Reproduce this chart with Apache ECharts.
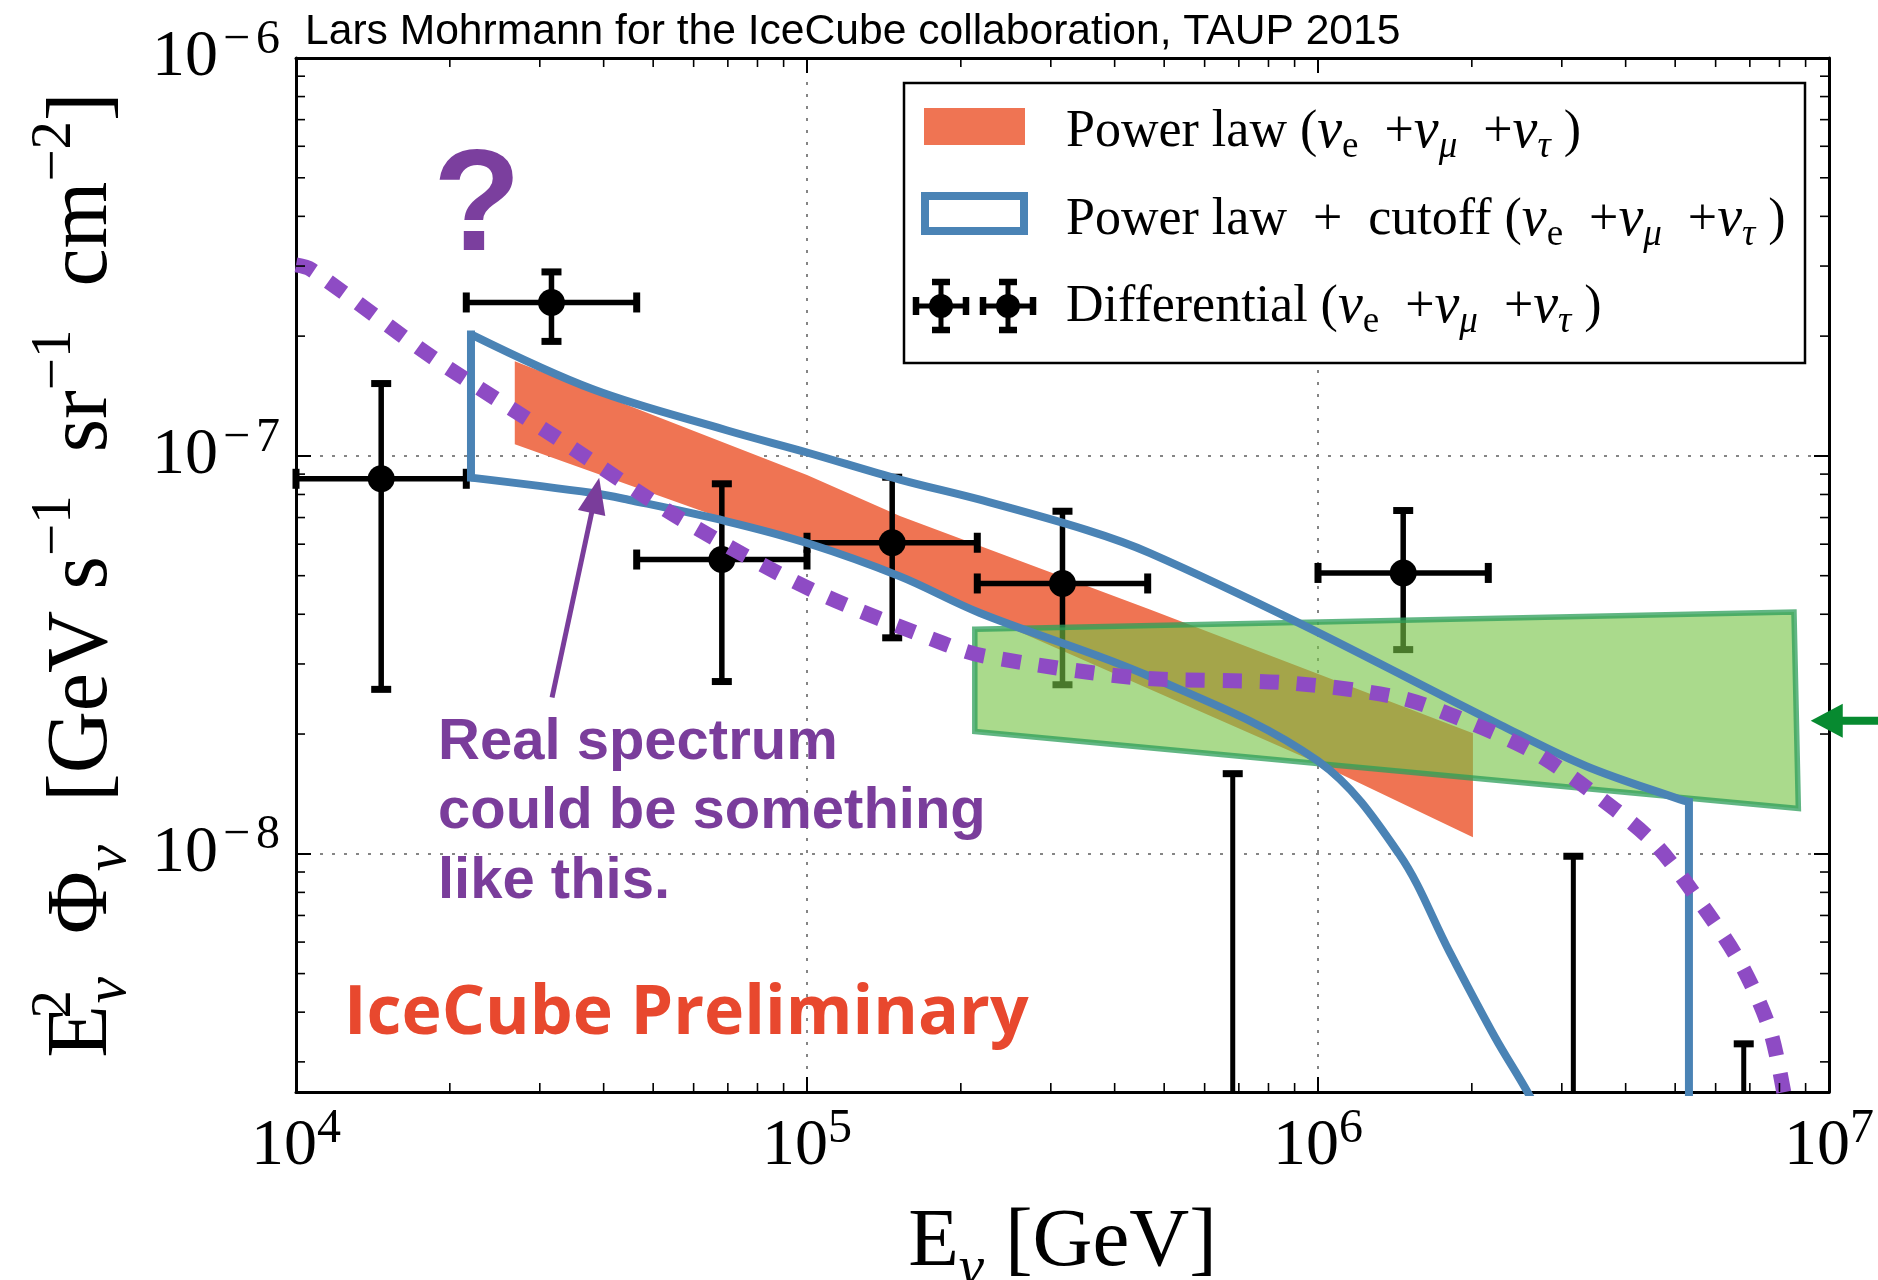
<!DOCTYPE html>
<html><head><meta charset="utf-8">
<script src="https://cdn.jsdelivr.net/npm/echarts@6/dist/echarts.min.js"></script>
<style>html,body{margin:0;padding:0;background:#fff;}#c{width:1878px;height:1280px;}</style>
</head><body><div id="c"></div>
<script>
// ---------------- data ----------------
const X_MIN = 1e4, X_MAX = 1e7, Y_MIN = 2.52e-9, Y_MAX = 1e-6;

// Differential (nu_e + nu_mu + nu_tau) points
const diffE        = [1.468e4, 3.162e4, 6.813e4, 1.468e5, 3.162e5, 1.468e6];
const diffELow     = [1.0e4,   2.154e4, 4.642e4, 1.0e5,   2.154e5, 1.0e6];
const diffEHigh    = [2.154e4, 4.642e4, 1.0e5,   2.154e5, 4.642e5, 2.154e6];
const diffFlux     = [8.76e-8, 2.43e-7, 5.49e-8, 6.05e-8, 4.78e-8, 5.08e-8];
const diffFluxLow  = [2.59e-8, 1.94e-7, 2.71e-8, 3.49e-8, 2.66e-8, 3.26e-8];
const diffFluxHigh = [1.52e-7, 2.90e-7, 8.51e-8, 8.84e-8, 7.26e-8, 7.29e-8];
// upper limits
const ulE    = [6.81e5, 3.16e6, 6.81e6];
const ulFlux = [1.59e-8, 9.86e-9, 3.33e-9];

// Power law band (orange)
const orangeTopE     = [2.68e4, 1.0e5, 1.52e5, 4.69e5, 2.01e6];
const orangeTopFlux  = [1.73e-7, 8.95e-8, 7.06e-8, 4.11e-8, 2.01e-8];
const orangeBotE     = [2.68e4, 6.93e4, 1.0e5, 1.52e5, 1.0e6, 2.01e6];
const orangeBotFlux  = [1.07e-7, 6.92e-8, 6.03e-8, 4.90e-8, 1.69e-8, 1.10e-8];

// Power law + cutoff outline (blue)
const blueUpperE    = [2.2e4, 3.81e4, 6.96e4, 1.0e5, 1.52e5, 2.18e5, 3.53e5, 4.69e5, 9.23e5, 2.27e6, 3.35e6, 5.11e6, 5.32e6];
const blueUpperFlux = [2.02e-7, 1.47e-7, 1.16e-7, 1.02e-7, 8.72e-8, 7.76e-8, 6.51e-8, 5.70e-8, 3.79e-8, 2.11e-8, 1.66e-8, 1.37e-8, 1.35e-8];
const blueLowerE    = [2.2e4, 3.81e4, 4.47e4, 6.96e4, 1.0e5, 1.52e5, 2.18e5, 4.69e5, 1.0e6, 1.44e6, 1.81e6, 2.22e6, 2.57e6, 2.78e6];
const blueLowerFlux = [8.82e-8, 8.07e-8, 7.76e-8, 6.85e-8, 6.04e-8, 4.98e-8, 4.03e-8, 2.79e-8, 1.71e-8, 1.0e-8, 5.66e-9, 3.46e-9, 2.52e-9, 2.07e-9];
const blueDropFlux  = 1.0e-9;

// Green region
const greenE    = [2.13e5, 8.54e6, 8.71e6, 2.13e5];
const greenFlux = [3.67e-8, 4.05e-8, 1.30e-8, 2.03e-8];

// Purple "real spectrum" dotted curve
const purpleE    = [1.0e4, 1.07e4, 1.86e4, 3.24e4, 5.69e4, 1.02e5, 1.87e5, 2.25e5, 4.43e5, 8.69e5, 1.44e6, 1.96e6, 2.67e6, 3.54e6, 4.56e6, 5.71e6, 6.76e6, 7.67e6, 8.22e6];
const purpleFlux = [3.02e-7, 2.94e-7, 1.76e-7, 1.11e-7, 6.92e-8, 4.61e-8, 3.36e-8, 3.13e-8, 2.77e-8, 2.69e-8, 2.47e-8, 2.15e-8, 1.79e-8, 1.39e-8, 1.06e-8, 7.28e-9, 5.21e-9, 3.60e-9, 2.38e-9];

// annotation arrows (tail -> tip)
const purpleArrowE    = [3.17e4, 3.92e4];
const purpleArrowFlux = [2.47e-8, 8.81e-8];
const greenArrowE     = [1.3e7, 9.21e6];
const greenArrowFlux  = [2.16e-8, 2.16e-8];

// minor tick positions
const xMinorTicks = [];
for (let n = 4; n <= 6; n++) for (let k = 2; k <= 9; k++) xMinorTicks.push(k * Math.pow(10, n));
const yMinorTicks = [];
for (let n = -9; n <= -7; n++) for (let k = 2; k <= 9; k++) { const v = k * Math.pow(10, n); if (v > Y_MIN && v < Y_MAX) yMinorTicks.push(v); }

// ---------------- styles ----------------
const SERIF = 'Liberation Serif';
const C_ORANGE = '#ef7453', C_BLUE = '#4a83b5', C_PURPLE = '#8e4bc4', C_PURPLE_TXT = '#7a3d9b';

const tickRich = {
  b: {fontFamily: SERIF, fontSize: 66, lineHeight: 84, color: '#000'},
  s: {fontFamily: SERIF, fontSize: 48, lineHeight: 50, verticalAlign: 'top', color: '#000'},
  n: {fontFamily: SERIF, fontSize: 48, lineHeight: 50, verticalAlign: 'top', color: '#000', padding: [0, 6, 0, 5]}
};
function powLabel(v) {
  const l = Math.log10(v), e = Math.round(l);
  if (Math.abs(l - e) > 1e-6) return '';
  return '{b|10}' + (e < 0 ? '{n|\u2212}{s|' + (-e) + '}' : '{s|' + e + '}');
}
const titleRich = {
  m: {fontFamily: SERIF, fontSize: 86, lineHeight: 112, color: '#000'},
  p: {fontFamily: SERIF, fontSize: 57, lineHeight: 72, verticalAlign: 'top', color: '#000'},
  p0: {fontFamily: SERIF, fontSize: 57, lineHeight: 72, verticalAlign: 'top', color: '#000', width: 2},
  d: {fontFamily: SERIF, fontSize: 59, lineHeight: 43, verticalAlign: 'bottom', fontStyle: 'italic', color: '#000'}
};
const xTitleRich = {
  m: {fontFamily: SERIF, fontSize: 83, lineHeight: 112, color: '#000'},
  d: {fontFamily: SERIF, fontSize: 57, lineHeight: 43, verticalAlign: 'bottom', fontStyle: 'italic', color: '#000'}
};

function axisCommon(pos, showLabel) {
  return {
    type: 'log', logBase: 10, position: pos,
    axisLine: {show: true, onZero: false, lineStyle: {color: '#000', width: 3}},
    axisTick: {show: true, inside: true, length: 15, lineStyle: {color: '#000', width: 2}},
    splitLine: {show: showLabel, lineStyle: {color: '#858585', width: 2, type: [3, 9]}},
    axisLabel: showLabel ? {show: true, formatter: powLabel, rich: tickRich} : {show: false}
  };
}

const xBottom = Object.assign(axisCommon('bottom', true), {min: X_MIN, max: X_MAX,
  name: '{m|E}{d|\u03bd}{m| [GeV]}', nameLocation: 'middle', nameGap: 95, nameTextStyle: {rich: xTitleRich}});
xBottom.axisLabel.margin = 13;
const xTop = Object.assign(axisCommon('top', false), {min: X_MIN, max: X_MAX});
const yLeft = Object.assign(axisCommon('left', true), {min: Y_MIN, max: Y_MAX,
  name: '{m|E}{p0|2}{d|\u03bd}{m|  \u03a6}{d|\u03bd}{m|  [GeV s}{p|\u22121}{m|  sr}{p|\u22121}{m|  cm}{p|\u22122}{m|]}',
  nameLocation: 'middle', nameGap: 157, nameRotate: 90, nameTextStyle: {rich: titleRich}});
yLeft.axisLabel.margin = 16;
const yRight = Object.assign(axisCommon('right', false), {min: Y_MIN, max: Y_MAX});

// ---------------- series ----------------
function polyFrom(api, es, fs) { return es.map((e, i) => api.coord([e, fs[i]])); }

const orangeSeries = {
  type: 'custom', name: 'Power law', clip: true, silent: true, z: 2,
  data: [[1e5, 1e-7]],
  renderItem: (params, api) => {
    const pts = polyFrom(api, orangeTopE, orangeTopFlux)
      .concat(polyFrom(api, orangeBotE, orangeBotFlux).reverse());
    return {type: 'polygon', shape: {points: pts}, style: {fill: C_ORANGE}};
  }
};

const blueLine = {color: C_BLUE, width: 8, join: 'miter', cap: 'butt'};
const blueUpperSeries = {
  type: 'line', data: blueUpperE.map((e, i) => [e, blueUpperFlux[i]]), showSymbol: false, clip: true, z: 2,
  smooth: 0.35, lineStyle: blueLine, silent: true
};
const blueLowerSeries = {
  type: 'line', data: blueLowerE.map((e, i) => [e, blueLowerFlux[i]]), showSymbol: false, clip: true, z: 2,
  smooth: 0.35, lineStyle: blueLine, silent: true
};
const blueEdgeL = {
  type: 'line', data: [[blueLowerE[0], blueLowerFlux[0]], [blueUpperE[0], blueUpperFlux[0]]], showSymbol: false, clip: true, z: 2,
  lineStyle: {color: C_BLUE, width: 8, cap: 'square'}, silent: true
};
const blueEdgeR = {
  type: 'line', data: [[blueUpperE[blueUpperE.length - 1], blueUpperFlux[blueUpperFlux.length - 1]], [blueUpperE[blueUpperE.length - 1], blueDropFlux]],
  showSymbol: false, clip: true, z: 2, lineStyle: {color: C_BLUE, width: 8, cap: 'square'}, silent: true
};

function ebLines(c, l, r, t, b) {
  const st = {stroke: '#000', lineWidth: 5.5};
  const cs = {stroke: '#000', lineWidth: 7};
  return [
    {type: 'line', shape: {x1: l[0], y1: l[1], x2: r[0], y2: r[1]}, style: st},
    {type: 'line', shape: {x1: t[0], y1: t[1], x2: b[0], y2: b[1]}, style: st},
    {type: 'line', shape: {x1: l[0], y1: l[1] - 10, x2: l[0], y2: l[1] + 10}, style: cs},
    {type: 'line', shape: {x1: r[0], y1: r[1] - 10, x2: r[0], y2: r[1] + 10}, style: cs},
    {type: 'line', shape: {x1: t[0] - 10, y1: t[1], x2: t[0] + 10, y2: t[1]}, style: cs},
    {type: 'line', shape: {x1: b[0] - 10, y1: b[1], x2: b[0] + 10, y2: b[1]}, style: cs},
    {type: 'circle', shape: {cx: c[0], cy: c[1], r: 13.5}, style: {fill: '#000'}}
  ];
}
const errSeries = {
  type: 'custom', name: 'Differential', silent: true, z: 2,
  data: diffE.map((e, i) => [e, diffFlux[i]]),
  renderItem: (params, api) => {
    const i = params.dataIndex;
    return {type: 'group', children: ebLines(
      api.coord([diffE[i], diffFlux[i]]),
      api.coord([diffELow[i], diffFlux[i]]), api.coord([diffEHigh[i], diffFlux[i]]),
      api.coord([diffE[i], diffFluxHigh[i]]), api.coord([diffE[i], diffFluxLow[i]]))};
  }
};
const ulSeries = {
  type: 'custom', silent: true, z: 2,
  data: ulE.map((e, i) => [e, ulFlux[i]]),
  renderItem: (params, api) => {
    const i = params.dataIndex;
    const t = api.coord([ulE[i], ulFlux[i]]), b = api.coord([ulE[i], Y_MIN]);
    return {type: 'group', children: [
      {type: 'line', shape: {x1: t[0], y1: t[1], x2: b[0], y2: b[1]}, style: {stroke: '#000', lineWidth: 5}},
      {type: 'line', shape: {x1: t[0] - 10, y1: t[1], x2: t[0] + 10, y2: t[1]}, style: {stroke: '#000', lineWidth: 7}}
    ]};
  }
};

const greenSeries = {
  type: 'custom', silent: true, clip: false, z: 2,
  data: [[1e6, 2e-8]],
  renderItem: (params, api) => ({
    type: 'polygon', shape: {points: polyFrom(api, greenE, greenFlux)},
    style: {fill: 'rgba(118,196,70,0.62)', stroke: 'rgba(44,158,90,0.75)', lineWidth: 5.5, lineJoin: 'miter'}
  })
};

const purpleSeries = {
  type: 'line', data: purpleE.map((e, i) => [e, purpleFlux[i]]), showSymbol: false, clip: false, smooth: 0.3, z: 2,
  lineStyle: {color: C_PURPLE, width: 15, type: [19, 18], cap: 'butt'}, silent: true
};

function arrowItem(api, es, fs, color, lw, headLen, headHalf) {
  const p0 = api.coord([es[0], fs[0]]), p1 = api.coord([es[1], fs[1]]);
  const dx = p1[0] - p0[0], dy = p1[1] - p0[1], L = Math.hypot(dx, dy);
  const ux = dx / L, uy = dy / L, nx = -uy, ny = ux;
  const bx = p1[0] - ux * headLen, by = p1[1] - uy * headLen;
  return {type: 'group', children: [
    {type: 'line', shape: {x1: p0[0], y1: p0[1], x2: bx + ux * 2, y2: by + uy * 2}, style: {stroke: color, lineWidth: lw}},
    {type: 'polygon', shape: {points: [[p1[0], p1[1]], [bx + nx * headHalf, by + ny * headHalf], [bx - nx * headHalf, by - ny * headHalf]]}, style: {fill: color}}
  ]};
}
const purpleArrowSeries = {
  type: 'custom', silent: true, clip: false, z: 3, data: [[purpleArrowE[0], purpleArrowFlux[0]]],
  renderItem: (p, api) => arrowItem(api, purpleArrowE, purpleArrowFlux, C_PURPLE_TXT, 5, 36, 14)
};
const greenArrowSeries = {
  type: 'custom', silent: true, clip: false, z: 3, data: [[greenArrowE[1], greenArrowFlux[1]]],
  renderItem: (p, api) => arrowItem(api, greenArrowE, greenArrowFlux, '#078a30', 8, 32, 17)
};

const minorSeries = {
  type: 'custom', silent: true, clip: false, z: 5,
  data: xMinorTicks.map(v => [v, Y_MAX, 0]).concat(yMinorTicks.map(v => [X_MIN, v, 1])),
  renderItem: (params, api) => {
    const kind = api.value(2), L = 9, st = {stroke: '#000', lineWidth: 1.6};
    if (kind === 0) {
      const v = api.value(0), b = api.coord([v, Y_MIN]), t = api.coord([v, Y_MAX]);
      return {type: 'group', children: [
        {type: 'line', shape: {x1: b[0], y1: b[1], x2: b[0], y2: b[1] - L}, style: st},
        {type: 'line', shape: {x1: t[0], y1: t[1], x2: t[0], y2: t[1] + L}, style: st}]};
    }
    const v = api.value(1), l = api.coord([X_MIN, v]), r = api.coord([X_MAX, v]);
    return {type: 'group', children: [
      {type: 'line', shape: {x1: l[0], y1: l[1], x2: l[0] + L, y2: l[1]}, style: st},
      {type: 'line', shape: {x1: r[0], y1: r[1], x2: r[0] - L, y2: r[1]}, style: st}]};
  }
};

// ---------------- legend + annotations (graphic) ----------------
const legRich = {
  r: {fontFamily: SERIF, fontSize: 52, lineHeight: 68, color: '#111'},
  i: {fontFamily: SERIF, fontSize: 56, lineHeight: 68, fontStyle: 'italic', color: '#111'},
  s: {fontFamily: SERIF, fontSize: 37, lineHeight: 40, verticalAlign: 'bottom', color: '#111'},
  si: {fontFamily: SERIF, fontSize: 37, lineHeight: 40, verticalAlign: 'bottom', fontStyle: 'italic', color: '#111'}
};
const nuSum = '{r|(}{i|\u03bd}{s|e}{r|  +}{i|\u03bd}{si|\u03bc}{r|  +}{i|\u03bd}{si|\u03c4}{r| )}';
function legMarker(cx, cy) {
  const st = {stroke: '#000', lineWidth: 5}, cs = {stroke: '#000', lineWidth: 6.5};
  return [
    {type: 'line', shape: {x1: cx - 25, y1: cy, x2: cx + 25, y2: cy}, style: st, z: 101},
    {type: 'line', shape: {x1: cx, y1: cy - 24, x2: cx, y2: cy + 24}, style: st, z: 101},
    {type: 'line', shape: {x1: cx - 25, y1: cy - 9, x2: cx - 25, y2: cy + 9}, style: cs, z: 101},
    {type: 'line', shape: {x1: cx + 25, y1: cy - 9, x2: cx + 25, y2: cy + 9}, style: cs, z: 101},
    {type: 'line', shape: {x1: cx - 9, y1: cy - 24, x2: cx + 9, y2: cy - 24}, style: cs, z: 101},
    {type: 'line', shape: {x1: cx - 9, y1: cy + 24, x2: cx + 9, y2: cy + 24}, style: cs, z: 101},
    {type: 'circle', shape: {cx: cx, cy: cy, r: 12}, style: {fill: '#000'}, z: 101}
  ];
}
const graphics = [
  {type: 'text', left: 305, top: 11, z: 100, style: {text: 'Lars Mohrmann for the IceCube collaboration, TAUP 2015', font: '42.6px "Liberation Sans"', fill: '#000'}},
  {type: 'rect', shape: {x: 904, y: 83, width: 901, height: 280}, style: {fill: '#fff', stroke: '#000', lineWidth: 2.5}, z: 100},
  {type: 'rect', shape: {x: 924, y: 108, width: 101, height: 37}, style: {fill: C_ORANGE}, z: 101},
  {type: 'rect', shape: {x: 925, y: 196, width: 99, height: 35}, style: {fill: '#fff', stroke: C_BLUE, lineWidth: 8}, z: 101},
  {type: 'text', x: 1066, y: 132, z: 101, style: {text: '{r|Power law }' + nuSum, rich: legRich, verticalAlign: 'middle'}},
  {type: 'text', x: 1066, y: 220, z: 101, style: {text: '{r|Power law  +  cutoff }' + nuSum, rich: legRich, verticalAlign: 'middle'}},
  {type: 'text', x: 1066, y: 307, z: 101, style: {text: '{r|Differential }' + nuSum, rich: legRich, verticalAlign: 'middle'}},
  {type: 'text', x: 477, y: 210, z: 100, style: {text: '?', font: 'bold 144px "Liberation Sans"', fill: '#7b3f9e', align: 'center', verticalAlign: 'middle'}},
  {type: 'text', x: 438, y: 743, z: 100, style: {text: 'Real spectrum', font: 'bold 58px "Liberation Sans"', fill: C_PURPLE_TXT, verticalAlign: 'middle'}},
  {type: 'text', x: 438, y: 812, z: 100, style: {text: 'could be something', font: 'bold 58px "Liberation Sans"', fill: C_PURPLE_TXT, verticalAlign: 'middle'}},
  {type: 'text', x: 438, y: 882, z: 100, style: {text: 'like this.', font: 'bold 58px "Liberation Sans"', fill: C_PURPLE_TXT, verticalAlign: 'middle'}},
  {type: 'text', x: 344, y: 1015, z: 100, style: {text: 'IceCube Preliminary', font: 'bold 68px "Open Sans"', fill: '#e8482e', verticalAlign: 'middle'}}
].concat(legMarker(941, 306)).concat(legMarker(1008, 306));

const chart = echarts.init(document.getElementById('c'), null, {renderer: 'canvas'});
chart.setOption({
  animation: false,
  backgroundColor: '#fff',
  grid: {left: 296, right: 49, top: 58, bottom: 188, containLabel: false, outerBoundsMode: 'none'},
  xAxis: [xBottom, xTop],
  yAxis: [yLeft, yRight],
  series: [orangeSeries, blueUpperSeries, blueLowerSeries, blueEdgeL, blueEdgeR, errSeries, ulSeries, greenSeries, purpleSeries, purpleArrowSeries, greenArrowSeries, minorSeries],
  graphic: graphics
});
</script>
</body></html>
